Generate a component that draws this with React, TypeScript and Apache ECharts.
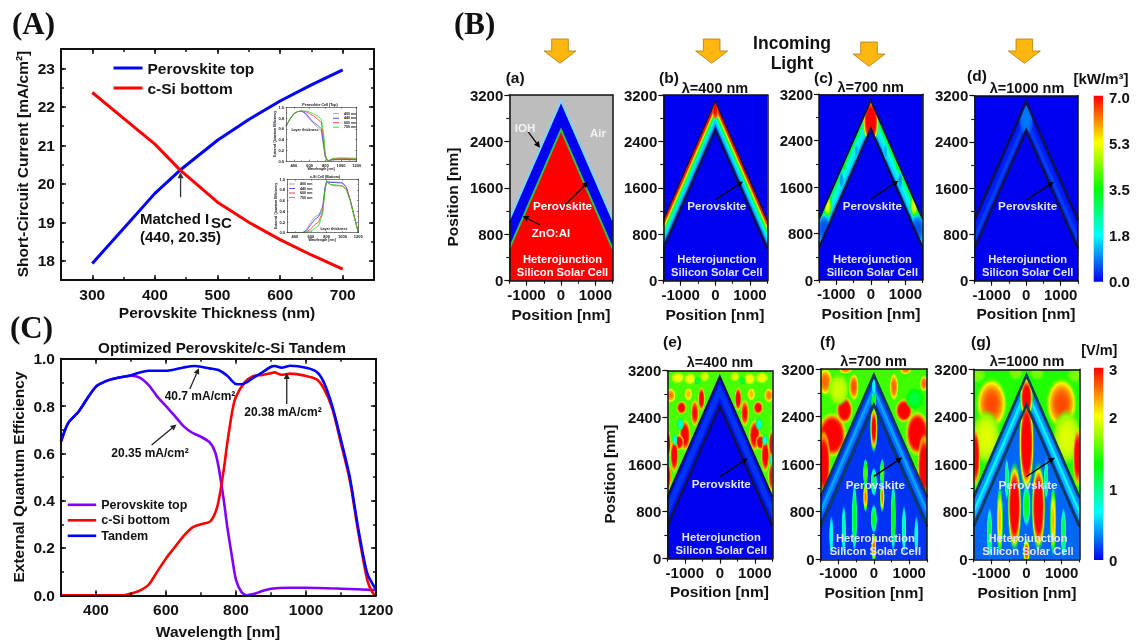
import React, { useEffect, useRef } from "react";
import * as echarts from "echarts";

// ---------- Panel A ----------
const thicknessNm = [300, 350, 400, 440, 500, 550, 600, 650, 700];
const perovskiteJsc = [17.93, 18.84, 19.75, 20.35, 21.13, 21.67, 22.15, 22.57, 22.96];
const siliconJsc = [22.37, 21.7, 21.03, 20.36, 19.52, 19.0, 18.55, 18.15, 17.78];

// ---------- Insets ----------
const insetTopWl = [300, 350, 400, 450, 500, 550, 600, 650, 700, 750, 780, 800, 830, 900, 1000, 1200];
const insetTop400 = [0.65, 0.78, 0.88, 0.92, 0.93, 0.87, 0.78, 0.7, 0.63, 0.55, 0.25, 0.08, 0, 0.02, 0.025, 0.02];
const insetTop440 = [0.65, 0.78, 0.88, 0.92, 0.93, 0.89, 0.8, 0.72, 0.67, 0.6, 0.3, 0.08, 0, 0.03, 0.03, 0.025];
const insetTop600 = [0.65, 0.78, 0.88, 0.92, 0.93, 0.92, 0.88, 0.84, 0.78, 0.72, 0.4, 0.1, 0, 0.04, 0.05, 0.04];
const insetTop700 = [0.65, 0.78, 0.88, 0.92, 0.93, 0.93, 0.91, 0.88, 0.84, 0.78, 0.5, 0.12, 0, 0.05, 0.06, 0.05];
const insetBotWl = [300, 500, 550, 600, 650, 700, 750, 780, 800, 850, 900, 1000, 1050, 1100, 1150, 1200];
const insetBot400 = [0, 0, 0.06, 0.2, 0.3, 0.33, 0.5, 0.85, 0.96, 0.95, 0.95, 0.94, 0.85, 0.6, 0.3, 0];
const insetBot440 = [0, 0, 0.05, 0.15, 0.25, 0.3, 0.45, 0.85, 0.95, 0.94, 0.94, 0.93, 0.85, 0.6, 0.3, 0];
const insetBot600 = [0, 0, 0.02, 0.07, 0.15, 0.2, 0.4, 0.8, 0.95, 0.9, 0.88, 0.88, 0.82, 0.6, 0.3, 0];
const insetBot700 = [0, 0, 0.01, 0.03, 0.08, 0.13, 0.35, 0.8, 0.97, 0.9, 0.9, 0.87, 0.8, 0.58, 0.28, 0];

// ---------- Panel C ----------
const tandemWl = [300, 320, 350, 375, 400, 425, 450, 500, 525, 550, 600, 650, 682, 700, 725, 750, 775, 800, 815, 830, 850, 875, 900, 910, 930, 955, 1000, 1030, 1050, 1075, 1100, 1125, 1150, 1175, 1200];
const tandemEqe = [0.65, 0.727, 0.776, 0.832, 0.882, 0.903, 0.915, 0.93, 0.942, 0.949, 0.949, 0.963, 0.969, 0.966, 0.959, 0.952, 0.928, 0.893, 0.892, 0.9, 0.92, 0.942, 0.966, 0.969, 0.962, 0.97, 0.962, 0.945, 0.903, 0.8, 0.656, 0.5, 0.276, 0.093, 0.025];
const topWl = [300, 320, 350, 375, 400, 425, 450, 500, 525, 550, 575, 600, 625, 650, 675, 700, 725, 740, 750, 765, 775, 790, 800, 815, 830, 850, 875, 900, 950, 1000, 1100, 1200];
const topEqe = [0.65, 0.727, 0.776, 0.832, 0.882, 0.903, 0.915, 0.928, 0.92, 0.889, 0.84, 0.8, 0.758, 0.715, 0.687, 0.67, 0.646, 0.607, 0.544, 0.403, 0.29, 0.149, 0.065, 0.015, 0, 0.005, 0.018, 0.028, 0.032, 0.032, 0.028, 0.022];
const bottomWl = [300, 480, 500, 525, 550, 575, 600, 625, 650, 675, 700, 725, 740, 750, 765, 775, 790, 800, 825, 850, 875, 900, 910, 930, 955, 1000, 1030, 1050, 1075, 1100, 1125, 1150, 1175, 1190, 1200];
const bottomEqe = [0, 0, 0.007, 0.02, 0.044, 0.1, 0.156, 0.203, 0.25, 0.286, 0.3, 0.311, 0.346, 0.396, 0.53, 0.642, 0.783, 0.839, 0.9, 0.927, 0.931, 0.939, 0.942, 0.932, 0.937, 0.927, 0.913, 0.877, 0.79, 0.642, 0.487, 0.262, 0.065, 0.011, 0];
const arrowsC = [[668, 0.872, 694, 0.96], [945, 0.809, 945, 0.94], [559, 0.635, 630, 0.722]];
const arrowsA = [[441, 19.65, 441, 20.3]];

// ---------- Panel B structure (x nm, y nm) ----------
const outerEdge = [[-1500, 1050], [0, 3100], [1500, 1050]];
const innerEdge = [[-1500, 550], [0, 2600], [1500, 550]];
const pointerMain = [0, 1395, 800, 1710];
const pointersA = [[-30, 1218, 792, 1706], [-957, 2567, -609, 2292], [-609, 960, -1111, 1115]];

// chevrons: [vertical offset below outer edge nm, field level 0..1]
const chevB = [[25, 0.98], [105, 0.85], [135, 0.72], [165, 0.58], [205, 0.42], [255, 0.3], [315, 0.2], [395, 0.1], [470, 0.03]];
const chevC = [[20, 0.38], [50, 0.45], [110, 0.36], [170, 0.28], [290, 0.22], [390, 0.14], [460, 0.06]];
const chevD = [[20, 0.01], [100, 0.03], [250, 0.06], [400, 0.03]];
const chevE = [[15, 0.02], [120, 0.05], [350, 0.02]];
const chevF = [[20, 0.05], [100, 0.08], [180, 0.16], [300, 0.11], [400, 0.04]];
const chevG = [[20, 0.1], [90, 0.15], [200, 0.24], [300, 0.18], [400, 0.08]];

// blobs: [x nm, y nm, radius x nm, radius y nm, peak level]
const bandBlobsB = [[0, 2960, 70, 150, 1]];
const bandBlobsC = [[0, 2730, 200, 340, 1.15], [-1250, 1280, 100, 170, 0.72], [1250, 1280, 100, 170, 0.72], [-780, 2000, 60, 110, 0.5], [780, 2000, 60, 110, 0.5], [-850, 1720, 55, 120, 0.15], [850, 1720, 55, 120, 0.15], [-420, 2200, 45, 120, 0.17], [420, 2200, 45, 120, 0.17], [-1350, 880, 180, 200, 0.08], [1350, 880, 180, 200, 0.08]];
const bandBlobsD = [[0, 2800, 170, 260, 0.12]];
const airE = [[1095, 2570, 95, 95, 1.05], [-1095, 2570, 95, 95, 1.05], [524, 2720, 65, 170, 1.05], [-524, 2720, 65, 170, 1.05], [714, 2480, 80, 190, 1], [-714, 2480, 80, 190, 1], [1000, 2100, 110, 220, 1.05], [-1000, 2100, 110, 220, 1.05], [1170, 1980, 100, 110, 1.05], [-1170, 1980, 100, 110, 1.05], [1300, 1760, 80, 240, 1.05], [-1300, 1760, 80, 240, 1.05], [1480, 1950, 55, 200, 1.05], [-1480, 1950, 55, 200, 1.05], [1480, 1400, 65, 220, 1], [-1480, 1400, 65, 220, 1], [760, 1880, 60, 150, 0.88], [-760, 1880, 60, 150, 0.88], [1200, 3080, 130, 80, 0.74], [-1200, 3080, 130, 80, 0.74], [850, 3060, 110, 80, 0.76], [-850, 3060, 110, 80, 0.76], [430, 3100, 90, 70, 0.72], [-430, 3100, 90, 70, 0.72], [1400, 2780, 90, 100, 0.88], [-1400, 2780, 90, 100, 0.88], [900, 2800, 75, 90, 0.82], [-900, 2800, 75, 90, 0.82], [1124, 2290, 65, 90, 0.28], [-1124, 2290, 65, 90, 0.28], [1285, 2020, 50, 80, 0.25], [-1285, 2020, 50, 80, 0.25], [1470, 1680, 40, 80, 0.28], [-1470, 1680, 40, 80, 0.28], [640, 3030, 55, 55, 0.42], [-640, 3030, 55, 55, 0.42], [1500, 2350, 60, 100, 0.62], [-1500, 2350, 60, 100, 0.62]];
const airF = [[-1180, 2090, 280, 280, 1.12], [-1414, 1610, 130, 400, 1.1], [-830, 2509, 160, 170, 1.1], [-1370, 2985, 140, 170, 0.9], [-566, 2900, 95, 170, 0.92], [-800, 3190, 130, 50, 0.88], [850, 2500, 170, 150, 1.1], [566, 2900, 85, 170, 0.9], [1226, 2117, 230, 280, 1.12], [1414, 1557, 125, 400, 1.1], [1414, 2957, 80, 100, 0.9], [900, 3180, 110, 50, 0.88], [-1000, 2850, 200, 200, 0.7], [1150, 2700, 180, 140, 0.44]];
const siF = [[0, 2200, 60, 330, 1.05], [-236, 1050, 38, 210, 0.88], [236, 1050, 38, 210, 0.88], [-236, 1450, 38, 200, 0.6], [236, 1450, 38, 200, 0.6], [0, 1300, 50, 200, 0.42], [-547, 700, 42, 480, 0.5], [547, 700, 42, 480, 0.5], [-850, 500, 36, 340, 0.34], [850, 500, 36, 340, 0.34], [-1200, 400, 36, 280, 0.28], [1200, 400, 36, 280, 0.28], [0, 200, 42, 200, 0.9], [0, 680, 50, 200, 0.48]];
const bandBlobsF = [[0, 2650, 60, 150, 0.55], [0, 2900, 45, 120, 0.28]];
const airG = [[-993, 2620, 310, 320, 0.93], [993, 2620, 310, 320, 0.93], [-1150, 2050, 300, 340, 0.72], [1150, 2050, 300, 340, 0.72], [-1450, 1725, 100, 380, 1.05], [1450, 1725, 100, 380, 1.05], [-1400, 3100, 180, 100, 0.62], [1400, 3100, 180, 100, 0.62], [-300, 3150, 150, 100, 0.62], [300, 3150, 150, 100, 0.62]];
const siG = [[0, 1950, 120, 680, 1.2], [-340, 885, 110, 620, 1.18], [340, 885, 110, 620, 1.18], [-757, 650, 52, 480, 0.82], [757, 650, 52, 480, 0.82], [-1050, 450, 45, 340, 0.42], [1050, 450, 45, 340, 0.42], [0, 130, 55, 180, 0.95], [0, 900, 65, 280, 0.48], [-560, 1350, 36, 280, 0.4], [560, 1350, 36, 280, 0.4]];
const bandBlobsG = [[0, 2720, 160, 300, 1.1]];

// ---------- Text ----------
const lambdaLabels = ["λ=400 nm", "λ=700 nm", "λ=1000 nm"];
const powerTicks = ["7.0", "5.3", "3.5", "1.8", "0.0"];
const fieldTicks = ["3", "2", "1", "0"];
const insetSeriesNames = ["400 nm", "440 nm", "600 nm", "700 nm"];

const FONT = '"Liberation Sans"';
const zip = (a: number[], b: number[]) => a.map((v, i) => [v, b[i]]);

const JET = [[0, [0, 0, 240]], [0.25, [0, 255, 255]], [0.5, [0, 255, 0]], [0.75, [255, 255, 0]], [1, [255, 0, 0]]] as any[];
function jet(l: number, a = 1) {
  const v = Math.max(0, Math.min(1, l));
  for (let i = 0; i < JET.length - 1; i++) {
    const [l0, c0] = JET[i];
    const [l1, c1] = JET[i + 1];
    if (v <= l1) {
      const t = (v - l0) / (l1 - l0);
      return `rgba(${c0.map((c: number, k: number) => Math.round(c + (c1[k] - c) * t)).join(",")},${a})`;
    }
  }
  return `rgba(255,0,0,${a})`;
}

function blobFill(peak: number, base: number) {
  const stops = [];
  for (let i = 0; i <= 8; i++) {
    const t = i / 8;
    const lvl = peak + (base - peak) * Math.pow(t, 3);
    stops.push({ offset: t, color: jet(lvl, t < 0.75 ? 1 : (1 - t) / 0.25) });
  }
  return new echarts.graphic.RadialGradient(0.5, 0.5, 0.5, stops);
}
const BLOB_SCALE = 1.3;

function arrowEls(p: number[], q: number[], color: string, lw: number, head: number) {
  const d = Math.hypot(q[0] - p[0], q[1] - p[1]) || 1;
  const ux = (q[0] - p[0]) / d;
  const uy = (q[1] - p[1]) / d;
  const bx = q[0] - ux * head;
  const by = q[1] - uy * head;
  const w = head * 0.5;
  return [
    { type: "line", shape: { x1: p[0], y1: p[1], x2: bx, y2: by }, style: { stroke: color, lineWidth: lw } },
    { type: "polygon", shape: { points: [q, [bx - uy * w, by + ux * w], [bx + uy * w, by - ux * w]] }, style: { fill: color } },
  ];
}

const grids: any[] = [];
const xAxes: any[] = [];
const yAxes: any[] = [];

function addAxes(o: any) {
  const rect = { left: o.l, top: o.t, width: o.r - o.l, height: o.b - o.t };
  const make = (dim: "x" | "y") => {
    const cfg = dim === "x" ? o.x : o.y;
    const base = {
      type: "value", min: cfg.min, max: cfg.max, interval: cfg.step, z: 10,
      splitLine: { show: false }, minorTick: { show: false },
    };
    const lineS = { color: o.color || "#111", width: o.frame };
    const tickS = { color: o.color || "#111", width: o.tickW || o.frame * 0.75 };
    const label = {
      show: true, margin: o.margin, fontFamily: FONT, fontWeight: "bold", fontSize: o.font, color: "#111",
      formatter: (v: number) => {
        const m = cfg.majors.find((k: number) => Math.abs(k - v) < 1e-6);
        return m === undefined ? "" : cfg.fmt ? cfg.fmt(m) : String(m);
      },
    };
    return { base, lineS, tickS, label, cfg };
  };
  const build = (gi: number, withLine: boolean, long: boolean) => {
    for (const dim of ["x", "y"] as const) {
      const { base, lineS, tickS, label, cfg } = make(dim);
      const [a, b] = dim === "x" ? ["bottom", "top"] : ["left", "right"];
      const tick = (show: boolean) => ({
        show, inside: o.inside, length: long ? o.longTick : o.shortTick, lineStyle: tickS,
        ...(long ? { customValues: cfg.majors } : {}),
      });
      const list = dim === "x" ? xAxes : yAxes;
      list.push({ ...base, gridIndex: gi, position: a, axisLine: { show: withLine, onZero: false, lineStyle: lineS }, axisTick: tick(true), axisLabel: withLine ? label : { show: false } });
      list.push({ ...base, gridIndex: gi, position: b, axisLine: { show: withLine, onZero: false, lineStyle: lineS }, axisTick: tick(!!o.mirrorTicks), axisLabel: { show: false } });
    }
  };
  const gi = grids.length;
  grids.push({ ...rect, show: false });
  const axisIndex = xAxes.length;
  build(gi, true, false);
  grids.push({ ...rect, show: false });
  build(gi + 1, false, true);
  return { xAxisIndex: axisIndex, yAxisIndex: axisIndex };
}

const series: any[] = [];

// Field / structure panels
const X_CFG = { min: -1500, max: 1500, step: 500, majors: [-1000, 0, 1000] };
const Y_CFG = { min: 0, max: 3200, step: 400, majors: [0, 800, 1600, 2400, 3200] };

function addPanel(rect: number[], p: any) {
  const idx = addAxes({
    l: rect[0], r: rect[1], t: rect[2], b: rect[3], x: X_CFG, y: Y_CFG,
    inside: false, frame: 1.5, font: 15, margin: 6, longTick: 5, shortTick: 3,
  });
  series.push({
    type: "custom", ...idx, clip: true, silent: true, data: [[0, 0]], z: 2,
    renderItem: (_: any, api: any) => {
      const c = (pt: number[]) => api.coord(pt);
      const plotBottom = (e: number[][]) => [[-1500, 0], ...e, [1500, 0]];
      const poly = (pts: number[][], fill: string) => ({ type: "polygon", shape: { points: pts.map(c) }, style: { fill } });
      const blobs = (list: number[][], base: number, sx = 1, sy = 1) =>
        list.map(([x, y, rx, ry, peak]) => {
          const o = c([x, y]);
          return {
            type: "ellipse",
            shape: {
              cx: o[0], cy: o[1],
              rx: sx * BLOB_SCALE * Math.abs(c([x + rx, y])[0] - o[0]),
              ry: sy * BLOB_SCALE * Math.abs(c([x, y + ry])[1] - o[1]),
            },
            style: { fill: blobFill(peak, base) },
          };
        });
      const clipped = (region: number[][], children: any[]) => ({
        type: "group", clipPath: { type: "polygon", shape: { points: region.map(c) } }, children,
      });
      const airRegion = [[-1500, 3200], [1500, 3200], outerEdge[2], outerEdge[1], outerEdge[0]];
      const kids: any[] = [];
      kids.push(poly([[-1500, 0], [-1500, 3200], [1500, 3200], [1500, 0]], p.airFill));
      if (p.airBlobs) kids.push(clipped(airRegion, blobs(p.airBlobs, p.airBase, p.airSx, p.airSy)));
      kids.push(poly(plotBottom(outerEdge), p.bandFill));
      (p.chevrons || []).forEach(([off, lvl]: number[]) => {
        kids.push(poly(plotBottom(outerEdge.map(([x, y]) => [x, y - off])), jet(lvl)));
      });
      if (p.bandBlobs) kids.push(clipped(plotBottom(outerEdge), blobs(p.bandBlobs, p.bandBase)));
      kids.push(poly(plotBottom(innerEdge), p.siFill));
      if (p.siBlobs) kids.push(clipped(plotBottom(innerEdge), blobs(p.siBlobs, p.siBase, p.siSx, 1)));
      kids.push({ type: "polyline", shape: { points: outerEdge.map(c) }, style: { stroke: p.outerLine, lineWidth: p.outerW, fill: "none" } });
      kids.push({ type: "polyline", shape: { points: innerEdge.map(c) }, style: { stroke: p.innerLine, lineWidth: p.innerW, fill: "none" } });
      (p.pointers || [pointerMain]).forEach((a: number[]) => {
        kids.push(...arrowEls(c([a[0], a[1]]), c([a[2], a[3]]), "#000", 1.3, 6));
      });
      return { type: "group", children: kids };
    },
  });
}

const BLUE = jet(0);
const NAVY = "#10124e";
const TEAL = "#0c3d55";
const PANELS: [number[], any][] = [
  [[509.3, 612.7, 95, 280.7], { airFill: "#bdbdbd", bandFill: BLUE, siFill: "#ff0000", outerLine: "#7cd6ff", outerW: 2, innerLine: "#2fbf4a", innerW: 2, pointers: pointersA }],
  [[663.3, 767.3, 95, 280.7], { airFill: BLUE, bandFill: "#181a50", siFill: BLUE, chevrons: chevB, bandBlobs: bandBlobsB, bandBase: 0.8, outerLine: NAVY, outerW: 1.5, innerLine: NAVY, innerW: 2.5 }],
  [[819, 922.7, 94.3, 280], { airFill: BLUE, bandFill: BLUE, siFill: BLUE, chevrons: chevC, bandBlobs: bandBlobsC, bandBase: 0.25, outerLine: NAVY, outerW: 2, innerLine: NAVY, innerW: 2.5 }],
  [[974.3, 1078, 95.7, 280.7], { airFill: BLUE, bandFill: BLUE, siFill: BLUE, chevrons: chevD, bandBlobs: bandBlobsD, bandBase: 0.05, outerLine: NAVY, outerW: 2.5, innerLine: NAVY, innerW: 2.5 }],
  [[667.3, 772.3, 370.7, 558.7], { airFill: jet(0.57), airBlobs: airE, airBase: 0.57, airSx: 1.25, airSy: 1, bandFill: BLUE, siFill: BLUE, chevrons: chevE, outerLine: NAVY, outerW: 2, innerLine: NAVY, innerW: 2.5 }],
  [[820.7, 927, 369, 559.3], { airFill: jet(0.56), airBlobs: airF, airBase: 0.56, airSx: 1.2, airSy: 1.1, bandFill: BLUE, siFill: jet(0.05), siBlobs: siF, siBase: 0.05, siSx: 1.5, chevrons: chevF, bandBlobs: bandBlobsF, bandBase: 0.1, outerLine: TEAL, outerW: 2.5, innerLine: TEAL, innerW: 2.5 }],
  [[973.7, 1079.3, 369.3, 559.3], { airFill: jet(0.53), airBlobs: airG, airBase: 0.53, airSx: 1.15, airSy: 1.1, bandFill: BLUE, siFill: jet(0.1), siBlobs: siG, siBase: 0.1, siSx: 1.5, chevrons: chevG, bandBlobs: bandBlobsG, bandBase: 0.2, outerLine: TEAL, outerW: 2.5, innerLine: TEAL, innerW: 2.5 }],
];
PANELS.forEach(([r, p]) => addPanel(r, p));

// Panel A
const idxA = addAxes({
  l: 61, r: 374, t: 49, b: 280,
  x: { min: 250, max: 750, step: 50, majors: [300, 400, 500, 600, 700] },
  y: { min: 17.5, max: 23.5, step: 0.5, majors: [18, 19, 20, 21, 22, 23] },
  inside: true, mirrorTicks: true, frame: 2, font: 15.5, margin: 6, longTick: 5, shortTick: 3,
});
series.push({ type: "line", name: "Perovskite top", ...idxA, data: zip(thicknessNm, perovskiteJsc), symbol: "none", lineStyle: { color: "#0000ff", width: 3 }, itemStyle: { color: "#0000ff" }, z: 3 });
series.push({ type: "line", name: "c-Si bottom", ...idxA, data: zip(thicknessNm, siliconJsc), symbol: "none", lineStyle: { color: "#ff0000", width: 3 }, itemStyle: { color: "#ff0000" }, z: 3 });

const arrowSeries = (idx: any, data: number[][], color: string) => ({
  type: "custom", ...idx, data, silent: true, z: 4, encode: { x: [0, 2], y: [1, 3] },
  renderItem: (_: any, api: any) => ({
    type: "group",
    children: arrowEls(api.coord([api.value(0), api.value(1)]), api.coord([api.value(2), api.value(3)]), color, 1.3, 6),
  }),
});
series.push(arrowSeries(idxA, arrowsA, "#333"));

// Panel C
const idxC = addAxes({
  l: 61, r: 376, t: 358.7, b: 595.3,
  x: { min: 300, max: 1200, step: 100, majors: [400, 600, 800, 1000, 1200] },
  y: { min: 0, max: 1, step: 0.1, majors: [0, 0.2, 0.4, 0.6, 0.8, 1], fmt: (v: number) => v.toFixed(1) },
  inside: true, mirrorTicks: true, frame: 2, font: 15.5, margin: 6, longTick: 5, shortTick: 3,
});
const lineC = (name: string, x: number[], y: number[], color: string) => ({
  type: "line", name, ...idxC, data: zip(x, y), symbol: "none", smooth: 0.25, clip: false, lineStyle: { color, width: 2.6 }, itemStyle: { color }, z: 3,
});
series.push(lineC("Perovskite top", topWl, topEqe, "#8000ff"));
series.push(lineC("c-Si bottom", bottomWl, bottomEqe, "#ff0000"));
series.push(lineC("Tandem", tandemWl, tandemEqe, "#0000ff"));
series.push(arrowSeries(idxC, arrowsC, "#222"));

// Insets
const INSET_COLORS = ["#9a9a9a", "#3b3bff", "#ff3030", "#22dd22"];
function addInset(rect: number[], wl: number[], curves: number[][]) {
  const idx = addAxes({
    l: rect[0], r: rect[1], t: rect[2], b: rect[3],
    x: { min: 300, max: 1200, step: 100, majors: [400, 600, 800, 1000, 1200] },
    y: { min: 0, max: 1, step: 0.1, majors: [0, 0.2, 0.4, 0.6, 0.8, 1], fmt: (v: number) => v.toFixed(1) },
    inside: true, mirrorTicks: true, frame: 0.7, font: 4, margin: 2, longTick: 1.5, shortTick: 0.8, color: "#444",
  });
  curves.forEach((c, i) => {
    series.push({ type: "line", name: insetSeriesNames[i], ...idx, data: zip(wl, c), symbol: "none", lineStyle: { color: INSET_COLORS[i], width: 0.8 }, itemStyle: { color: INSET_COLORS[i] }, z: 3 });
  });
}
addInset([286, 356.7, 107.3, 161], insetTopWl, [insetTop400, insetTop440, insetTop600, insetTop700]);
addInset([287, 358.3, 179.3, 232.7], insetBotWl, [insetBot400, insetBot440, insetBot600, insetBot700]);

// ---------- Annotation graphics ----------
const T = (text: string, x: number, y: number, size: number, o: any = {}) => ({
  type: "text", x, y, z: 100, rotation: o.rot || 0, silent: true,
  style: {
    text, font: `${o.weight || "bold"} ${size}px ${o.family || FONT}`, fill: o.fill || "#111",
    align: o.align || "center", verticalAlign: "middle",
  },
});
const SERIF = '"Liberation Serif"';
const UP = Math.PI / 2;
const LAV = "#e4e4ff";

const graphicEls: any[] = [
  T("(A)", 12, 23, 31, { align: "left", family: SERIF }),
  T("(B)", 454, 23, 31, { align: "left", family: SERIF }),
  T("(C)", 10, 327, 31, { align: "left", family: SERIF }),
  T("Short-Circuit Current [mA/cm²]", 22, 164, 15.5, { rot: UP }),
  T("Perovskite Thickness (nm)", 217, 312, 15.5),
  T("Matched I", 140, 218, 15, { align: "left" }),
  T("SC", 211, 222, 15, { align: "left" }),
  T("(440, 20.35)", 140, 236.7, 15, { align: "left" }),
  T("Optimized Perovskite/c-Si Tandem", 222, 347.7, 15.2),
  T("External Quantum Efficiency", 18.7, 477, 15.5, { rot: UP }),
  T("Wavelength [nm]", 218, 631, 15.5),
  T("40.7 mA/cm²", 200, 395.7, 12),
  T("20.38 mA/cm²", 283, 411.7, 12),
  T("20.35 mA/cm²", 150, 452.7, 12),
  T("Incoming", 792, 43, 17.5),
  T("Light", 792, 63, 17.5),
  T("Position [nm]", 452.7, 197, 15.5, { rot: UP }),
  T("Position [nm]", 609, 474, 15.5, { rot: UP }),
  T("[kW/m³]", 1101, 78, 15),
  T("[V/m]", 1099.3, 350, 14.5),
  // x axis captions of the field panels
  T("Position [nm]", 561, 314, 15.5),
  T("Position [nm]", 715, 314, 15.5),
  T("Position [nm]", 871, 313, 15.5),
  T("Position [nm]", 1026, 313.5, 15.5),
  T("Position [nm]", 719.5, 591, 15.5),
  T("Position [nm]", 874, 592, 15.5),
  T("Position [nm]", 1027, 592, 15.5),
  // inset texts
  T("Perovskite Cell (Top)", 320, 104.7, 3.6),
  T("c-Si Cell (Bottom)", 325, 176.7, 3.6),
  T("Wavelength [nm]", 321, 169, 3.4),
  T("Wavelength [nm]", 322, 240, 3.4),
  T("External Quantum Efficiency", 275, 134, 3.4, { rot: UP }),
  T("External Quantum Efficiency", 276, 206, 3.4, { rot: UP }),
  T("Layer thickness", 305, 130, 3.6),
  T("Layer thickness", 334, 228.5, 3.6),
  // (a) labels
  T("IOH", 525, 127.7, 11.5, { fill: "#f2f2f2" }),
  T("Air", 598, 133.3, 11.5, { fill: "#f2f2f2" }),
  T("ZnO:Al", 551, 232.7, 11.5, { fill: "#fff" }),
];

// panel captions
([["(a)", 505.7, 77], ["(b)", 659, 77], ["(c)", 814, 77], ["(d)", 967, 75], ["(e)", 663, 341.7], ["(f)", 820, 341.7], ["(g)", 971, 341.7]] as any[]).forEach(([s, x, y]) =>
  graphicEls.push(T(s, x, y, 15.5, { align: "left" })),
);
([[0, 715, 87.7], [1, 870.7, 87], [2, 1027, 87.7], [0, 720, 362.3], [1, 873.6, 360.7], [2, 1027, 360.7]] as number[][]).forEach(([i, x, y]) =>
  graphicEls.push(T(lambdaLabels[i], x, y, 14.5)),
);

// in-panel labels
PANELS.forEach(([r], i) => {
  const cx = (r[0] + r[1]) / 2 + 1.5;
  const fill = i === 0 ? "#fff" : LAV;
  graphicEls.push(T("Perovskite", cx, r[3] - 75, 11.7, { fill }));
  graphicEls.push(T("Heterojunction", cx, r[3] - 21.4, 11.2, { fill }));
  graphicEls.push(T("Silicon Solar Cell", cx, r[3] - 8.3, 11.2, { fill }));
});

// incoming light arrows
([[560, 39], [711.7, 39], [869, 42], [1024.3, 39]] as number[][]).forEach(([cx, t]) => {
  graphicEls.push({
    type: "polygon", z: 100, silent: true,
    shape: { points: [[cx - 8.3, t], [cx + 8.3, t], [cx + 8.3, t + 12], [cx + 16, t + 12], [cx, t + 24.3], [cx - 16, t + 12], [cx - 8.3, t + 12]] },
    style: { fill: "#ffb70f", stroke: "#b07c08", lineWidth: 0.8 },
  });
});

// colour bars
const ramp = () =>
  new echarts.graphic.LinearGradient(0, 0, 0, 1, [
    { offset: 0, color: jet(1) }, { offset: 0.25, color: jet(0.75) }, { offset: 0.5, color: jet(0.5) }, { offset: 0.75, color: jet(0.25) }, { offset: 1, color: jet(0) },
  ]);
graphicEls.push({ type: "rect", z: 100, silent: true, shape: { x: 1093.7, y: 95.7, width: 9.3, height: 186 }, style: { fill: ramp() } });
graphicEls.push({ type: "rect", z: 100, silent: true, shape: { x: 1094, y: 367.7, width: 9.3, height: 192.3 }, style: { fill: ramp() } });
[97, 143.5, 189.5, 235.5, 281.7].forEach((y, i) => graphicEls.push(T(powerTicks[i], 1109, y, 15, { align: "left" })));
[369, 417, 489, 560].forEach((y, i) => graphicEls.push(T(fieldTicks[i], 1109, y, 15, { align: "left" })));

const legendBase = { orient: "vertical", selectedMode: false, padding: 0, icon: "rect" };
const legendItem = (name: string, color: string) => ({ name, itemStyle: { color }, lineStyle: { color } });

const option: any = {
  animation: false,
  backgroundColor: "#fff",
  textStyle: { fontFamily: FONT },
  grid: grids,
  xAxis: xAxes,
  yAxis: yAxes,
  series,
  legend: [
    {
      ...legendBase, left: 113.5, top: 60, itemWidth: 29, itemHeight: 3, itemGap: 4,
      textStyle: { fontFamily: FONT, fontWeight: "bold", fontSize: 15.5, color: "#111" },
      data: [legendItem("Perovskite top", "#0000ff"), legendItem("c-Si bottom", "#ff0000")],
    },
    {
      ...legendBase, left: 67.7, top: 498.3, itemWidth: 28.5, itemHeight: 2.6, itemGap: 2.5,
      textStyle: { fontFamily: FONT, fontWeight: "bold", fontSize: 12.5, color: "#111" },
      data: [legendItem("Perovskite top", "#8000ff"), legendItem("c-Si bottom", "#ff0000"), legendItem("Tandem", "#0000ff")],
    },
    {
      ...legendBase, left: 333, top: 111.7, itemWidth: 6, itemHeight: 0.9, itemGap: 0.5,
      textStyle: { fontFamily: FONT, fontWeight: "bold", fontSize: 3.6, color: "#111" },
      data: insetSeriesNames.map((n, i) => legendItem(n, INSET_COLORS[i])),
    },
    {
      ...legendBase, left: 289, top: 182, itemWidth: 6, itemHeight: 0.9, itemGap: 0.5,
      textStyle: { fontFamily: FONT, fontWeight: "bold", fontSize: 3.6, color: "#111" },
      data: insetSeriesNames.map((n, i) => legendItem(n, INSET_COLORS[i])),
    },
  ],
  graphic: { elements: graphicEls },
};

export default function App() {
  const ref = useRef<HTMLDivElement>(null);
  useEffect(() => {
    const chart = echarts.init(ref.current!, undefined, { renderer: "svg" });
    chart.setOption(option);
    return () => chart.dispose();
  }, []);
  return <div ref={ref} style={{ position: "fixed", left: 0, top: 0, width: 1139, height: 640, filter: "blur(0.35px)" }} />;
}
